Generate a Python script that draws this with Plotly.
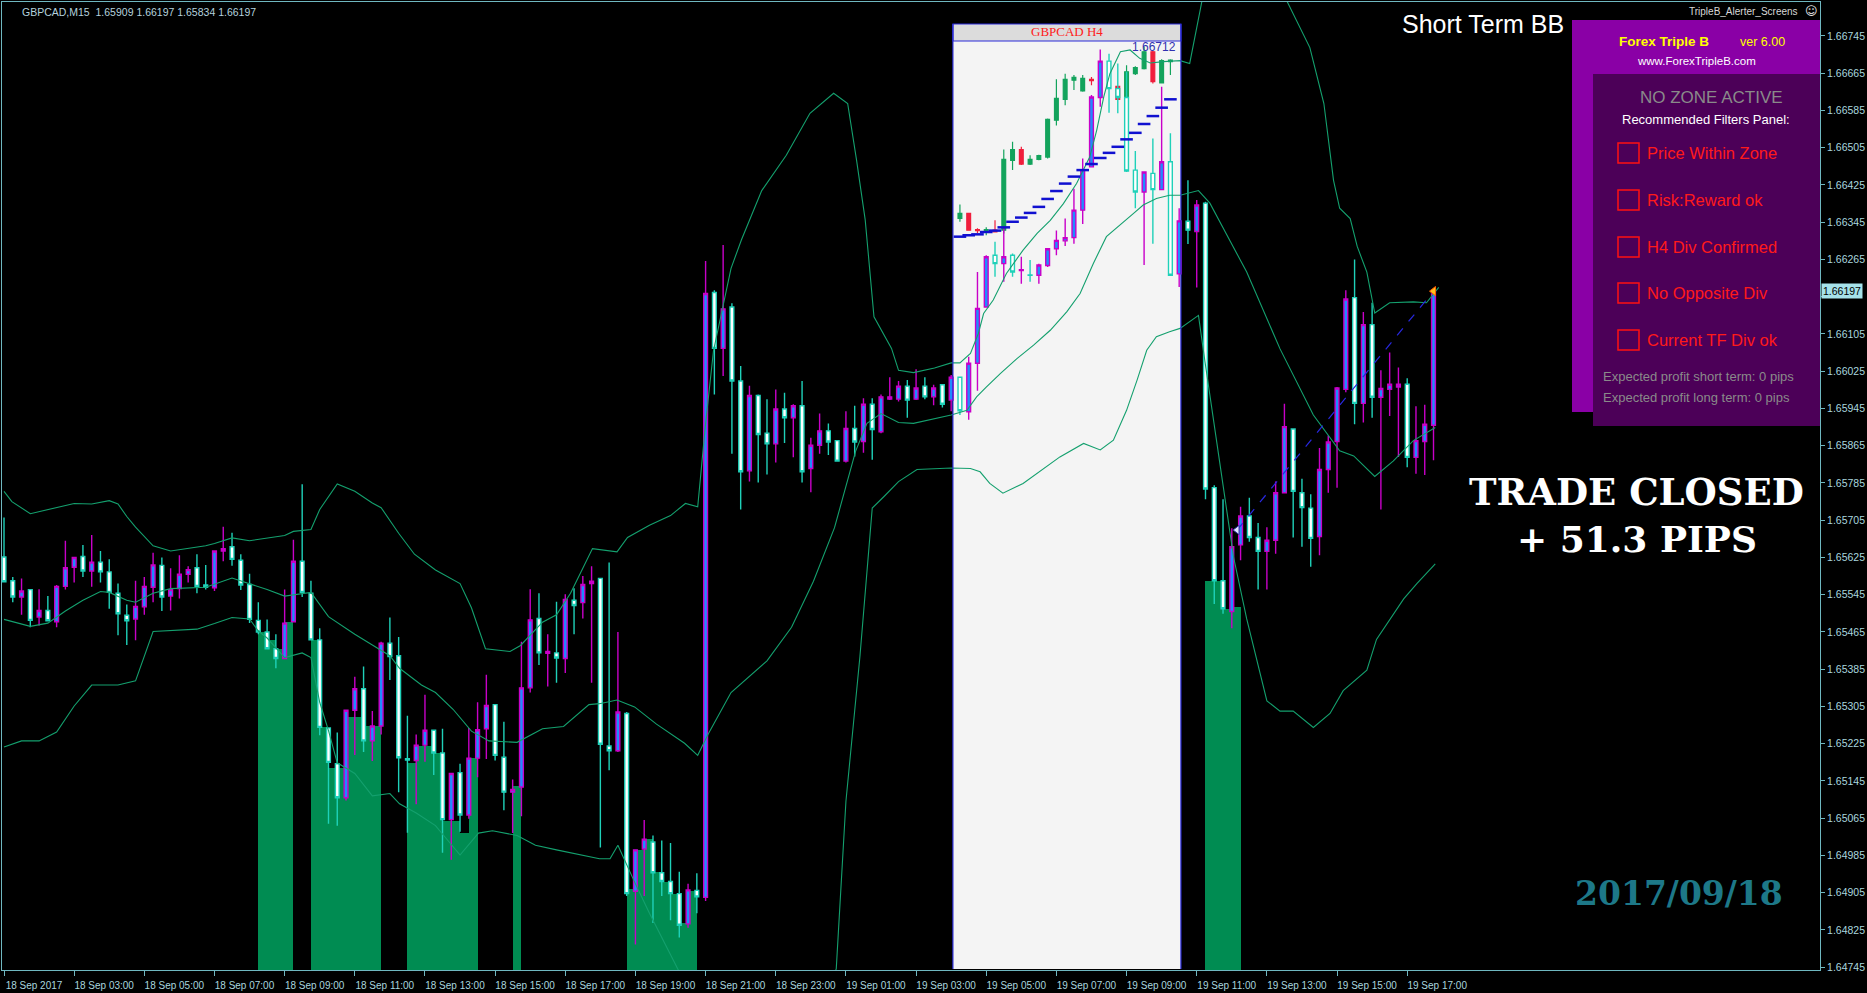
import plotly.graph_objects as go

# ---------------- M15 candles (bar index 0 = 18 Sep 01:00, 15-minute bars) ----------------
opens = [1.65626,1.65575,1.65540,1.65556,1.65497,1.65511,1.65487,1.65563,1.65604,1.65627,
         1.65596,1.65615,1.65594,1.65548,1.65501,1.65493,1.65519,1.65561,1.65608,1.65542,
         1.65558,1.65589,1.65603,1.65566,1.65560,1.65639,1.65648,1.65619,1.65567,1.65490,
         1.65465,1.65429,1.65408,1.65487,1.65617,1.65548,1.65448,1.65259,1.65182,1.65109,
         1.65297,1.65343,1.65231,1.65263,1.65441,1.65414,1.65193,1.65189,1.65222,1.65254,
         1.65205,1.65062,1.65163,1.65072,1.65194,1.65257,1.65309,1.65196,1.65121,1.65132,
         1.65345,1.65494,1.65419,1.65420,1.65408,1.65533,1.65528,1.65569,1.65580,1.65220,
         1.65210,1.65290,1.64908,1.64999,1.65014,1.64948,1.64929,1.64903,1.64838,1.64910,
         1.64895,1.66194,1.66074,1.66163,1.66004,1.65811,1.65973,1.65892,1.65869,1.65944,
         1.65925,1.65951,1.65816,1.65866,1.65897,1.65876,1.65832,1.65902,1.65874,1.65954,
         1.65895,1.65965,1.65965,1.65993,1.65965,1.65993,1.65970,1.65996,1.65963,1.66012,
         1.65938,1.66042,1.66163,1.66274,1.66256,1.66274,1.66241,1.66232,1.66231,1.66252,
         1.66288,1.66305,1.66312,1.66371,1.66464,1.66613,1.66691,1.66632,1.66613,1.66457,
         1.66410,1.66450,1.66415,1.66475,1.66234,1.66347,1.66325,1.66386,1.65775,1.65575,
         1.65509,1.65652,1.65714,1.65668,1.65638,1.65662,1.65764,1.65901,1.65764,1.65731,
         1.65670,1.65814,1.65874,1.65986,1.66183,1.65956,1.66125,1.65969,1.65986,1.65991,
         1.65997,1.65840,1.65874,1.65909]
highs = [1.65711,1.65583,1.65580,1.65556,1.65557,1.65542,1.65566,1.65661,1.65625,1.65652,
         1.65673,1.65639,1.65621,1.65569,1.65524,1.65575,1.65583,1.65635,1.65625,1.65602,
         1.65630,1.65606,1.65632,1.65609,1.65640,1.65691,1.65678,1.65632,1.65590,1.65529,
         1.65492,1.65460,1.65556,1.65663,1.65782,1.65575,1.65473,1.65259,1.65249,1.65297,
         1.65369,1.65391,1.65295,1.65444,1.65496,1.65454,1.65285,1.65245,1.65330,1.65254,
         1.65257,1.65161,1.65182,1.65259,1.65314,1.65373,1.65309,1.65272,1.65148,1.65444,
         1.65557,1.65548,1.65460,1.65530,1.65546,1.65559,1.65585,1.65606,1.65580,1.65614,
         1.65465,1.65293,1.64997,1.65061,1.65028,1.65017,1.65012,1.64950,1.64924,1.64947,
         1.66262,1.66199,1.66296,1.66171,1.66036,1.65994,1.65975,1.65965,1.65986,1.65979,
         1.65954,1.66004,1.65882,1.65934,1.65913,1.65876,1.65939,1.65951,1.65967,1.65967,
         1.65975,1.66012,1.66004,1.66006,1.66029,1.66012,1.65996,1.65996,1.66017,1.66012,
         1.66056,1.66238,1.66274,1.66303,1.66332,1.66278,1.66271,1.66264,1.66256,1.66288,
         1.66327,1.66353,1.66417,1.66482,1.66618,1.66716,1.66707,1.66686,1.66668,1.66498,
         1.66453,1.66525,1.66636,1.66536,1.66375,1.66435,1.66393,1.66389,1.65780,1.65750,
         1.65688,1.65734,1.65753,1.65699,1.65690,1.65788,1.65955,1.65901,1.65794,1.65761,
         1.65860,1.65887,1.65991,1.66199,1.66265,1.66152,1.66172,1.66027,1.66065,1.66033,
         1.66010,1.65950,1.65953,1.66197]
lows = [1.65571,1.65529,1.65502,1.65475,1.65479,1.65489,1.65475,1.65556,1.65571,1.65583,
        1.65562,1.65571,1.65515,1.65458,1.65437,1.65447,1.65502,1.65529,1.65510,1.65511,
        1.65537,1.65571,1.65548,1.65556,1.65553,1.65617,1.65607,1.65555,1.65484,1.65460,
        1.65429,1.65387,1.65408,1.65487,1.65540,1.65448,1.65243,1.65053,1.65049,1.65103,
        1.65201,1.65207,1.65188,1.65245,1.65362,1.65121,1.65034,1.65095,1.65186,1.65158,
        1.64991,1.64976,1.65036,1.65064,1.65153,1.65192,1.65189,1.65082,1.65033,1.65069,
        1.65335,1.65394,1.65348,1.65356,1.65377,1.65460,1.65494,1.65356,1.65002,1.65168,
        1.65207,1.64898,1.64794,1.64898,1.64840,1.64898,1.64846,1.64809,1.64830,1.64861,
        1.64887,1.65975,1.66015,1.65848,1.65728,1.65788,1.65786,1.65803,1.65829,1.65871,
        1.65840,1.65786,1.65765,1.65848,1.65845,1.65832,1.65829,1.65842,1.65850,1.65835,
        1.65892,1.65963,1.65960,1.65925,1.65963,1.65965,1.65952,1.65947,1.65939,1.65931,
        1.65921,1.65983,1.66162,1.66228,1.66217,1.66228,1.66213,1.66217,1.66213,1.66249,
        1.66274,1.66294,1.66299,1.66341,1.66463,1.66593,1.66580,1.66579,1.66453,1.66375,
        1.66253,1.66299,1.66414,1.66231,1.66206,1.66298,1.66205,1.65750,1.65525,1.65504,
        1.65473,1.65619,1.65659,1.65556,1.65556,1.65633,1.65764,1.65668,1.65648,1.65605,
        1.65630,1.65764,1.65775,1.65980,1.65911,1.65915,1.65925,1.65728,1.65929,1.65841,
        1.65819,1.65805,1.65802,1.65834]
closes = [1.65573,1.65540,1.65553,1.65490,1.65511,1.65489,1.65563,1.65603,1.65625,1.65596,
          1.65615,1.65594,1.65550,1.65504,1.65489,1.65520,1.65563,1.65609,1.65540,1.65556,
          1.65589,1.65599,1.65563,1.65561,1.65639,1.65644,1.65621,1.65566,1.65492,1.65465,
          1.65429,1.65408,1.65484,1.65617,1.65550,1.65448,1.65260,1.65185,1.65109,1.65297,
          1.65343,1.65231,1.65263,1.65441,1.65412,1.65195,1.65190,1.65222,1.65254,1.65205,
          1.65062,1.65161,1.65072,1.65194,1.65255,1.65307,1.65200,1.65121,1.65127,1.65345,
          1.65491,1.65420,1.65423,1.65409,1.65535,1.65522,1.65567,1.65574,1.65224,1.65210,
          1.65293,1.64903,1.64997,1.65020,1.64948,1.64929,1.64903,1.64835,1.64911,1.64896,
          1.66192,1.66074,1.66159,1.66004,1.65809,1.65973,1.65889,1.65869,1.65944,1.65925,
          1.65951,1.65809,1.65866,1.65897,1.65873,1.65832,1.65902,1.65873,1.65954,1.65900,
          1.65970,1.65970,1.65993,1.65963,1.65989,1.65970,1.65989,1.65954,1.66012,1.65940,
          1.66042,1.66160,1.66271,1.66256,1.66271,1.66238,1.66243,1.66231,1.66253,1.66288,
          1.66306,1.66312,1.66371,1.66458,1.66614,1.66691,1.66632,1.66613,1.66455,1.66410,
          1.66453,1.66415,1.66475,1.66231,1.66348,1.66328,1.66382,1.65772,1.65575,1.65515,
          1.65648,1.65714,1.65668,1.65638,1.65662,1.65764,1.65906,1.65767,1.65732,1.65666,
          1.65814,1.65873,1.65989,1.66180,1.65956,1.66125,1.65969,1.65988,1.65997,1.65997,
          1.65840,1.65876,1.65911,1.66197]

tick_labels = ["18 Sep 2017", "18 Sep 03:00", "18 Sep 05:00", "18 Sep 07:00", "18 Sep 09:00",
               "18 Sep 11:00", "18 Sep 13:00", "18 Sep 15:00", "18 Sep 17:00", "18 Sep 19:00",
               "18 Sep 21:00", "18 Sep 23:00", "19 Sep 01:00", "19 Sep 03:00", "19 Sep 05:00",
               "19 Sep 07:00", "19 Sep 09:00", "19 Sep 11:00", "19 Sep 13:00", "19 Sep 15:00",
               "19 Sep 17:00"]
bars_per_label = 8
price_ticks = [round(1.64745 + 0.0008 * k, 5) for k in range(26)]

# ---------------- Bollinger bands (read at bar positions) ----------------
bb_up_x = [0,0.9,3,5,7,8,10,12,13,14,15,17,19,21,23,24,26,28,30,32,33,35,36,38,40,42,43,45,
           46.8,49.2,52,53.3,54.9,57.7,58.9,61.4,63,64.6,67.1,69.9,71.1,73.6,76,77.7,79.1,80,80.9,
           82.9,84.1,86.4,89.2,91.9,94.6,96.2,97.2,98.2,99.2,101.2,102,103.7,106.1,108,109,110.2,
           111.1,111.7,112.8,114.3,116.2,117.8,119.3,120.8,122.3,123.8,124.6,125.4,126.1,127.3,
           128.4,129.5,130.7,132.2,134.1,135.2,136.7,138.7,141.7,145.5,148.9,150.5,151.6,152.3,
           153.5,154.3,155.4,156.3,158,160.7,162.2,163.6]
bb_up = [1.65767,1.65745,1.65719,1.65728,1.65736,1.65741,1.65740,1.65747,1.65740,1.65713,1.65690,
         1.65650,1.65639,1.65644,1.65650,1.65655,1.65667,1.65661,1.65667,1.65672,1.65681,1.65685,
         1.65728,1.65783,1.65767,1.65742,1.65732,1.65677,1.65632,1.65598,1.65569,1.65517,1.65429,
         1.65423,1.65436,1.65486,1.65502,1.65548,1.65644,1.65637,1.65668,1.65694,1.65715,1.65741,
         1.65734,1.65913,1.66069,1.66246,1.66308,1.66413,1.66489,1.66579,1.66622,1.66600,1.66480,
         1.66350,1.66142,1.66074,1.66027,1.66022,1.66032,1.66043,1.66043,1.66063,1.66106,1.66149,
         1.66178,1.66235,1.66285,1.66321,1.66349,1.66385,1.66428,1.66485,1.66543,1.66614,1.66664,
         1.66711,1.66715,1.66697,1.66687,1.66690,1.66692,1.66686,1.66830,1.66960,1.66980,1.66850,
         1.66720,1.66600,1.66435,1.66375,1.66353,1.66293,1.66238,1.66150,1.66172,1.66174,1.66172,
         1.66205]
bb_mid_x = [0,3,5,7,9,11,12,14,15,17,19,21,23,26,28,30,32,35,37,40,42,44,45.1,47.6,49.2,51.2,
            53.3,55.3,58.5,61.4,63.8,66.7,67.9,69.9,71.9,74.4,77.6,79.1,80.3,82.9,87,89.8,92.3,
            94.7,97.1,98.4,100,102,103.7,106.1,108,109.8,110.9,112,113.6,115.5,117.4,119.3,121.2,
            122.7,124.2,125.7,127.3,128.8,129.9,131.4,132.9,134.1,136.2,137.5,141.7,145.5,149.3,
            152.3,153.9,156.3,158.4,160.7,163.2]
bb_mid = [1.65492,1.65477,1.65484,1.65510,1.65533,1.65552,1.65550,1.65533,1.65529,1.65548,1.65558,
          1.65560,1.65561,1.65581,1.65569,1.65556,1.65542,1.65550,1.65498,1.65460,1.65437,1.65414,
          1.65387,1.65351,1.65335,1.65299,1.65252,1.65231,1.65228,1.65257,1.65262,1.65309,1.65311,
          1.65319,1.65304,1.65267,1.65226,1.65200,1.65246,1.65335,1.65403,1.65475,1.65574,1.65689,
          1.65853,1.65913,1.65934,1.65915,1.65913,1.65923,1.65931,1.65941,1.65970,1.65991,1.66020,
          1.66052,1.66081,1.66113,1.66153,1.66192,1.66256,1.66314,1.66339,1.66364,1.66382,1.66396,
          1.66403,1.66403,1.66413,1.66386,1.66238,1.66073,1.65931,1.65854,1.65843,1.65799,1.65832,
          1.65876,1.65904]
bb_low_x = [0,2,4,6,8,10,13,15,17,20,22,24,26,28,29,30,32,34,35,36,37,38,40,42,44,45.1,47,49.2,
            52,54.1,55.7,58.5,60.6,63,67.9,69.1,70,72,73.6,76.8,77.7,80,83,87,90,94.9,96,97.6,98.4,
            99,100.4,102,104.1,108,110.2,111.3,112.4,113.9,116.2,118.1,120.4,123.1,125,126.5,128,
            129.2,130.3,131.4,132.9,134.1,136.2,136.9,137.9,138.7,140.2,141.7,144,145.5,147,149.3,
            151.2,152.7,155.4,156.5,159.6,161.1,163.2]
bb_low = [1.65218,1.65231,1.65231,1.65250,1.65306,1.65351,1.65351,1.65360,1.65466,1.65469,1.65471,
          1.65483,1.65496,1.65493,1.65467,1.65452,1.65410,1.65420,1.65410,1.65314,1.65253,1.65184,
          1.65161,1.65113,1.65118,1.65096,1.65076,1.65049,1.64986,1.65033,1.65038,1.65028,1.65007,
          1.64997,1.64978,1.64978,1.65007,1.64924,1.64861,1.64742,1.64711,1.64580,1.64420,1.64370,
          1.64430,1.64742,1.65101,1.65413,1.65600,1.65731,1.65757,1.65788,1.65814,1.65817,1.65816,
          1.65809,1.65784,1.65763,1.65784,1.65809,1.65841,1.65870,1.65856,1.65877,1.65941,1.66006,
          1.66070,1.66099,1.66110,1.66117,1.66145,1.66051,1.65920,1.65821,1.65626,1.65493,1.65317,
          1.65295,1.65295,1.65260,1.65290,1.65339,1.65383,1.65449,1.65536,1.65569,1.65611]

# ---------------- green zone histogram (column k spans bar k .. k+1) ----------------
zone_bar = [29,30,31,32,35,36,37,38,39,40,41,42,46,47,48,49,50,51,52,53,58,
            71,72,73,74,75,76,77,78,137,138,139,140]
zone_top = [1.65466,1.65448,1.65429,1.65487,1.65448,1.65260,1.65172,1.65172,1.65283,1.65283,
            1.65264,1.65264,1.65184,1.65220,1.65220,1.65205,1.65059,1.65059,1.65033,1.65194,
            1.65134,1.64913,1.64997,1.65020,1.64950,1.64929,1.64903,1.64840,1.64908,
            1.65575,1.65575,1.65515,1.65518]

# ---------------- H4 inset candles (aligned with M15 bar slots) ----------------
h4_bar = [109,110,111,112,113,114,115,116,117,118,119,120,121,122,123,124,127,128,129,130,131,132,133]
h4_open = [1.66353,1.66364,1.66329,1.66327,1.66328,1.66328,1.66478,1.66501,1.66470,1.66480,1.66485,
           1.66564,1.66609,1.66650,1.66627,1.66652,1.66637,1.66614,1.66664,1.66675,1.66711,1.66644,1.66690]
h4_high = [1.66383,1.66365,1.66332,1.66334,1.66349,1.66501,1.66518,1.66507,1.66489,1.66490,1.66568,
           1.66652,1.66664,1.66661,1.66661,1.66657,1.66637,1.66682,1.66680,1.66722,1.66713,1.66695,1.66695]
h4_low = [1.66346,1.66327,1.66322,1.66317,1.66323,1.66321,1.66457,1.66468,1.66468,1.66478,1.66482,
          1.66553,1.66596,1.66629,1.66625,1.66639,1.66609,1.66614,1.66661,1.66673,1.66643,1.66643,1.66661]
h4_close = [1.66364,1.66328,1.66327,1.66329,1.66324,1.66480,1.66501,1.66470,1.66480,1.66488,1.66566,
            1.66611,1.66652,1.66656,1.66654,1.66649,1.66609,1.66668,1.66677,1.66711,1.66647,1.66692,1.66693]
h4_level_bar = list(range(109, 134))
h4_level = [1.66314,1.66317,1.66319,1.66324,1.66327,1.66334,1.66346,1.66355,1.66365,1.66378,1.66395,
            1.66412,1.66428,1.66443,1.66457,1.66470,1.66483,1.66494,1.66507,1.66523,1.66537,1.66556,
            1.66573,1.66591,1.66609]
h4_label = "1.66712"

# ---------------- closed trade ----------------
trade_bar = [140.6, 163]
trade_price = [1.65684, 1.66197]
trade_pips = 51.3

# ---------------- layout geometry (pixels of the 1867x993 page) ----------------
W, H = 1867, 993
PL, PR, PT, PB = 2, 1820, 2, 970
x_range = [-0.228, 207.07]
y_range = [1.64739, 1.66818]


def px(X):
    return (X - PL) / (PR - PL)


def py(Y):
    return (PB - Y) / (PB - PT)


fig = go.Figure()

# green zone columns
fig.add_trace(go.Bar(
    x=[b + 0.5 for b in zone_bar], y=[t - y_range[0] + 0.001 for t in zone_top],
    base=y_range[0] - 0.001, width=1.0, marker=dict(color="#008c52", line=dict(width=0)),
    hoverinfo="skip", showlegend=False))

# Bollinger bands
for xs, ys in ((bb_up_x, bb_up), (bb_mid_x, bb_mid), (bb_low_x, bb_low)):
    fig.add_trace(go.Scatter(x=xs, y=ys, mode="lines", line=dict(color="#14a06e", width=1.1),
                             hoverinfo="skip", showlegend=False))

# H4 candles inside the inset
fig.add_trace(go.Candlestick(
    x=h4_bar, open=h4_open, high=h4_high, low=h4_low, close=h4_close,
    increasing=dict(fillcolor="#13a35c", line=dict(color="#13a35c", width=1.2)),
    decreasing=dict(fillcolor="#f01e3c", line=dict(color="#f01e3c", width=1.2)),
    whiskerwidth=0, hoverinfo="skip", showlegend=False))

fig.add_trace(go.Scatter(
    x=h4_level_bar, y=h4_level, mode="markers",
    marker=dict(symbol="line-ew", size=9, line=dict(color="#1010d0", width=2.5)),
    hoverinfo="skip", showlegend=False))

# trade line
fig.add_trace(go.Scatter(x=trade_bar, y=trade_price, mode="lines",
                         line=dict(color="#2828e0", width=1.2, dash="dash"),
                         hoverinfo="skip", showlegend=False))

# M15 candles
fig.add_trace(go.Candlestick(
    x=list(range(len(opens))), open=opens, high=highs, low=lows, close=closes,
    increasing=dict(fillcolor="#1e8cff", line=dict(color="#c800c8", width=1.4)),
    decreasing=dict(fillcolor="#ffffff", line=dict(color="#1fd1b9", width=1.4)),
    whiskerwidth=0, hoverinfo="skip", showlegend=False))

# trade markers
fig.add_trace(go.Scatter(x=[trade_bar[0]], y=[trade_price[0]], mode="markers",
                         marker=dict(symbol="triangle-left", size=8, color="#dfe6ff",
                                     line=dict(color="#3030a0", width=1)),
                         hoverinfo="skip", showlegend=False))
fig.add_trace(go.Scatter(x=[trade_bar[1]], y=[trade_price[1]], mode="markers",
                         marker=dict(symbol="triangle-left", size=8, color="#ffc020",
                                     line=dict(color="#ff6000", width=1)),
                         hoverinfo="skip", showlegend=False))

shapes = []
# inset background and frame
inset_x0, inset_x1 = 108.2, 134.2
shapes.append(dict(type="rect", xref="x", yref="paper", x0=inset_x0, x1=inset_x1,
                   y0=py(969), y1=py(24), fillcolor="#f4f4f4", line=dict(width=0), layer="below"))
shapes.append(dict(type="rect", xref="x", yref="paper", x0=inset_x0, x1=inset_x1,
                   y0=py(41), y1=py(24), fillcolor="#dcdcdc", line=dict(color="#2a2ad8", width=1.2),
                   layer="above"))
for xv in (inset_x0, inset_x1):
    shapes.append(dict(type="line", xref="x", yref="paper", x0=xv, x1=xv, y0=py(969), y1=py(24),
                       line=dict(color="#2a2ad8", width=1.2), layer="above"))

# filters panel
shapes.append(dict(type="rect", xref="paper", yref="paper", x0=px(1572), x1=1.0,
                   y0=py(412), y1=py(20), fillcolor="#8a00a6", line=dict(width=0), layer="above"))
shapes.append(dict(type="rect", xref="paper", yref="paper", x0=px(1593), x1=1.0,
                   y0=py(426), y1=py(74), fillcolor="#4c0058", line=dict(width=0), layer="above"))
filter_rows = [153, 200, 247, 293, 340]
filter_names = ["Price Within Zone", "Risk:Reward ok", "H4 Div Confirmed", "No Opposite Div",
                "Current TF Div ok"]
for Y in filter_rows:
    shapes.append(dict(type="rect", xref="paper", yref="paper", x0=px(1618), x1=px(1639),
                       y0=py(Y + 10), y1=py(Y - 10), line=dict(color="#ff1010", width=1.5),
                       fillcolor="rgba(0,0,0,0)", layer="above"))

ann = []


def txt(X, Y, s, size, color, family="Liberation Sans", anchor="left", bold=False):
    ann.append(dict(xref="paper", yref="paper", x=px(X), y=py(Y), text=("<b>%s</b>" % s) if bold else s,
                    showarrow=False, xanchor=anchor, yanchor="middle",
                    font=dict(size=size, color=color, family=family)))


txt(20, 12, "GBPCAD,M15  %.5f %.5f %.5f %.5f" % (opens[-1], highs[-1], lows[-1], closes[-1]),
    10.5, "#b4d2de")
txt(1483, 24, "Short Term BB", 25, "#ffffff", anchor="center")
txt(1800, 11, "TripleB_Alerter_Screens", 10, "#d8d8d8", anchor="right")
txt(1811, 11, "☺", 12, "#e8e8e8", family="DejaVu Sans", anchor="center")
txt(1617, 42, "Forex Triple B", 13.5, "#ffff00", bold=True)
txt(1738, 42, "ver 6.00", 12.5, "#ffff00")
txt(1696, 61, "www.ForexTripleB.com", 11.5, "#ffffff", anchor="center")
txt(1711, 97, "NO ZONE ACTIVE", 17, "#8a8a8a", anchor="center")
txt(1706, 120, "Recommended Filters Panel:", 13, "#ffffff", anchor="center")
for Y, name in zip(filter_rows, filter_names):
    txt(1645, Y, name, 16.5, "#ff1a1a")
txt(1601, 377, "Expected profit short term: 0 pips", 13, "#8a8a8a")
txt(1601, 398, "Expected profit long term: 0 pips", 13, "#8a8a8a")
txt(1636, 492, "TRADE CLOSED", 37, "#ffffff", family="DejaVu Serif", anchor="center", bold=True)
txt(1637, 539, "+ %.1f PIPS" % trade_pips, 36, "#ffffff", family="DejaVu Serif", anchor="center",
    bold=True)
txt(1679, 893, "2017/09/18", 33, "#1d7888", family="DejaVu Serif", anchor="center", bold=True)
txt(1067, 32, "GBPCAD H4", 13, "#ff2020", family="Liberation Serif", anchor="center")
txt(1178, 47, h4_label, 12, "#3030b0", anchor="right")

# current price tag on the price scale
ann.append(dict(xref="paper", yref="y", x=1.0, y=closes[-1], text="%.5f" % closes[-1], showarrow=False,
                xanchor="left", yanchor="middle", xshift=1, bgcolor="#a6e2ea", borderpad=1,
                font=dict(size=10.5, color="#000000", family="Liberation Sans")))

# the price tag hides the tick label right under it
hidden_tick = min(price_ticks, key=lambda v: abs(v - closes[-1]))
y_ticktext = ["" if v == hidden_tick else "%.5f" % v for v in price_ticks]

axis_col = "#6fb7c0"
fig.update_layout(
    width=W, height=H, margin=dict(l=PL, r=W - PR, t=PT, b=H - PB),
    paper_bgcolor="#000000", plot_bgcolor="#000000",
    showlegend=False, boxgap=0.38, boxmode="overlay", bargap=0,
    shapes=shapes, annotations=ann,
    xaxis=dict(range=x_range, showgrid=False, zeroline=False, showline=True, linecolor=axis_col,
               linewidth=1, mirror=True, ticks="outside", ticklen=5, tickcolor=axis_col,
               tickvals=[k * bars_per_label for k in range(len(tick_labels))], ticktext=tick_labels,
               tickfont=dict(size=10, color="#a9d6df", family="Liberation Sans"),
               ticklabelshift=30, ticklabelstandoff=1, rangeslider=dict(visible=False),
               fixedrange=True),
    yaxis=dict(range=y_range, side="right", showgrid=False, zeroline=False, showline=True,
               linecolor=axis_col, linewidth=1, mirror=True, ticks="outside", ticklen=4,
               tickcolor=axis_col, tickvals=price_ticks, ticktext=y_ticktext,
               tickfont=dict(size=10.5, color="#a9d6df", family="Liberation Sans"), fixedrange=True),
)

fig.write_html("out.html", config={"displayModeBar": False},
               post_script="document.body.style.margin='0px';document.body.style.overflow='hidden';"
                           "document.documentElement.style.overflow='hidden';")
